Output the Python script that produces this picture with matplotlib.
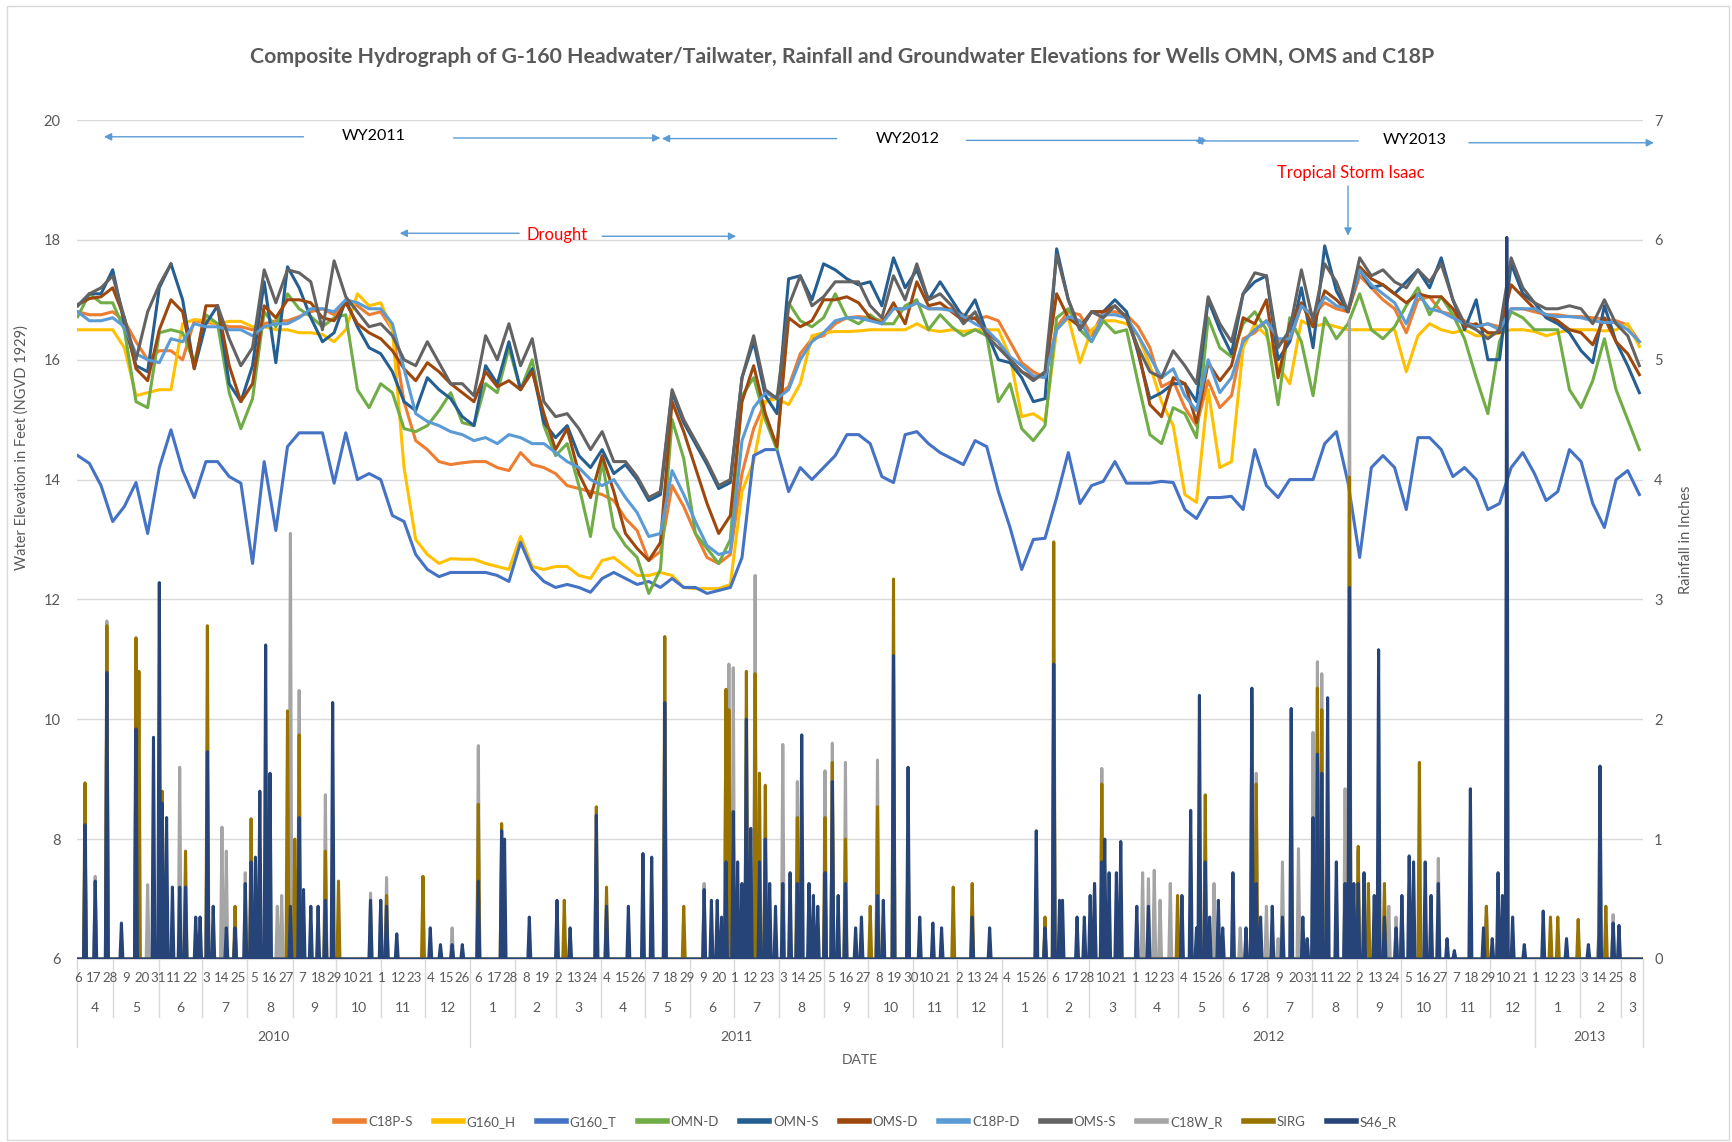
import datetime as dt
import numpy as np
import matplotlib
matplotlib.use("Agg")
import matplotlib.pyplot as plt
from matplotlib.lines import Line2D
from matplotlib.transforms import blended_transform_factory

plt.rcParams['font.family'] = ['Lato', 'DejaVu Sans']
nan = float('nan')

# ---------------- data ----------------
START = dt.date(2010, 4, 6)
N_DAYS = 1075
GRID_DAYS = list(range(0, 1073, 8))

C18P_S = [16.8, 16.75, 16.75, 16.8, 16.65, 16.3, 16.0, 16.15, 16.15, 16.0, 16.65, 16.62, 16.6, 16.55, 16.55, 16.5, 16.6, 16.65, 16.65, 16.72, 16.8, 16.85, 16.75, 16.95,
          16.9, 16.75, 16.8, 16.5, 15.3, 14.65, 14.5, 14.3, 14.25, 14.28, 14.3, 14.3, 14.2, 14.15, 14.45, 14.25, 14.2, 14.1, 13.9, 13.85, 13.8, 13.75, 13.65,
          13.35, 13.15, 12.65, 12.8, 13.9, 13.55, 13.1, 12.7, 12.6, 12.75, 14.1, 14.85, 15.3, 15.4, 15.55, 16.1, 16.35, 16.4, 16.6, 16.7, 16.72, 16.7, 16.65,
          16.85, 16.85, 16.95, 16.85, 16.85, 16.85, 16.75, 16.68, 16.72, 16.65, 16.3, 15.95, 15.8, 15.7, 16.55, 16.8, 16.75, 16.4, 16.8, 16.8, 16.75, 16.55, 16.2,
          15.55, 15.65, 15.2, 14.9, 15.65, 15.2, 15.4, 16.35, 16.45, 16.65, 16.3, 16.3, 16.9, 16.75, 16.95, 16.85, 16.8, 17.4, 17.2, 17.0, 16.85, 16.45, 17.0, 17.05,
          16.8, 16.75, 16.65, 16.55, 16.6, 16.55, 16.85, 16.85, 16.8, 16.75, 16.75, 16.72, 16.72, 16.7, 16.68, 16.65, 16.58, 16.3]

G160_H = [16.5, 16.5, 16.5, 16.5, 16.2, 15.4, 15.45, 15.5, 15.5, 16.6, 16.67, 16.65, 16.6, 16.64, 16.64, 16.55, 16.55, 16.5, 16.5, 16.45, 16.45, 16.42, 16.3, 16.5,
          17.1, 16.9, 16.95, 16.5, 14.2, 13.0, 12.75, 12.6, 12.68, 12.67, 12.67, 12.6, 12.55, 12.5, 13.05, 12.55, 12.5, 12.55, 12.55, 12.4, 12.35, 12.65, 12.7,
          12.55, 12.4, 12.4, 12.45, 12.4, 12.2, 12.18, 12.18, 12.18, 12.25, 13.8, 14.3, 15.3, 15.35, 15.25, 15.6, 16.4, 16.45, 16.47, 16.47, 16.48, 16.5, 16.5,
          16.5, 16.5, 16.6, 16.5, 16.47, 16.5, 16.47, 16.5, 16.5, 16.5, 16.05, 15.05, 15.1, 14.97, 16.5, 16.7, 15.95, 16.5, 16.65, 16.65, 16.6, 16.4, 15.9,
          15.3, 14.9, 13.75, 13.62, 15.5, 14.2, 14.3, 16.2, 16.6, 16.4, 15.9, 15.6, 16.65, 16.55, 16.6, 16.55, 16.5, 16.5, 16.5, 16.5, 16.5, 15.8, 16.4, 16.6,
          16.5, 16.45, 16.5, 16.4, 16.4, 16.45, 16.5, 16.5, 16.47, 16.4, 16.45, 16.5, 16.5, 16.5, 16.48, 16.5, 16.6, 16.22]

G160_T = [14.4, 14.27, 13.9, 13.3, 13.55, 13.95, 13.1, 14.2, 14.83, 14.15, 13.7, 14.3, 14.3, 14.05, 13.94, 12.6, 14.3, 13.15, 14.55, 14.78, 14.78, 14.78, 13.94, 14.78,
          14.0, 14.1, 14.0, 13.4, 13.3, 12.75, 12.5, 12.38, 12.45, 12.45, 12.45, 12.45, 12.4, 12.3, 12.95, 12.5, 12.3, 12.2, 12.25, 12.2, 12.12, 12.35, 12.45,
          12.35, 12.25, 12.3, 12.2, 12.35, 12.2, 12.2, 12.1, 12.15, 12.2, 12.7, 14.4, 14.5, 14.5, 13.8, 14.2, 14.0, 14.2, 14.4, 14.75, 14.75, 14.6, 14.05,
          13.95, 14.75, 14.8, 14.6, 14.45, 14.35, 14.25, 14.65, 14.55, 13.8, 13.2, 12.5, 13.0, 13.02, 13.7, 14.45, 13.6, 13.9, 13.97, 14.3, 13.94, 13.94, 13.94,
          13.97, 13.95, 13.5, 13.35, 13.7, 13.7, 13.72, 13.5, 14.5, 13.9, 13.7, 14.0, 14.0, 14.0, 14.6, 14.8, 13.95, 12.7, 14.2, 14.4, 14.2, 13.5, 14.7, 14.7,
          14.5, 14.05, 14.2, 14.0, 13.5, 13.6, 14.2, 14.45, 14.1, 13.65, 13.8, 14.5, 14.3, 13.6, 13.2, 14.0, 14.15, 13.75]

OMN_D = [16.72, 17.1, 16.95, 16.95, 16.5, 15.3, 15.2, 16.45, 16.5, 16.45, 15.95, 16.75, 16.6, 15.45, 14.85, 15.35, 16.8, 16.55, 17.1, 16.85, 16.72, 16.55, 16.7, 16.75,
         15.5, 15.2, 15.6, 15.45, 14.85, 14.8, 14.9, 15.15, 15.45, 14.95, 14.9, 15.6, 15.45, 16.2, 15.5, 16.0, 14.9, 14.4, 14.6, 13.9, 13.05, 14.3, 13.2,
         12.9, 12.7, 12.1, 12.5, 15.0, 14.35, 13.1, 12.85, 12.6, 13.0, 15.4, 15.7, 15.0, 14.5, 16.95, 16.65, 16.55, 16.7, 17.1, 16.7, 16.6, 16.75, 16.6,
         16.6, 16.9, 17.0, 16.5, 16.75, 16.55, 16.4, 16.5, 16.4, 15.3, 15.6, 14.85, 14.65, 14.9, 16.7, 16.85, 16.5, 16.3, 16.65, 16.45, 16.5, 15.6, 14.75,
         14.6, 15.2, 15.1, 14.7, 16.7, 16.2, 16.05, 16.6, 16.8, 16.5, 15.25, 16.7, 16.3, 15.4, 16.7, 16.35, 16.6, 17.1, 16.5, 16.35, 16.55, 16.9, 17.2, 16.75,
         17.05, 16.75, 16.35, 15.7, 15.1, 16.3, 16.8, 16.7, 16.5, 16.5, 16.5, 15.5, 15.2, 15.65, 16.35, 15.5, 15.0, 14.5]

OMN_S = [16.9, 17.1, 17.1, 17.5, 16.6, 15.9, 15.8, 17.2, 17.6, 17.0, 15.85, 16.6, 16.9, 15.6, 15.3, 15.9, 17.3, 15.95, 17.55, 17.2, 16.7, 16.3, 16.45, 17.0,
         16.55, 16.2, 16.1, 15.8, 15.3, 15.15, 15.7, 15.5, 15.35, 15.05, 14.9, 15.9, 15.6, 16.3, 15.5, 15.85, 14.95, 14.7, 14.9, 14.4, 14.2, 14.5, 14.1,
         14.25, 14.0, 13.65, 13.75, 15.45, 14.95, 14.6, 14.25, 13.85, 13.95, 15.7, 16.3, 15.4, 15.1, 17.35, 17.4, 17.0, 17.6, 17.5, 17.35, 17.25, 17.3, 16.9,
         17.7, 17.2, 17.5, 17.0, 17.3, 17.0, 16.7, 17.0, 16.45, 16.0, 15.95, 15.7, 15.3, 15.35, 17.85, 17.0, 16.5, 16.8, 16.8, 17.0, 16.8, 16.1, 15.35,
         15.45, 15.6, 15.6, 15.3, 17.0, 16.5, 16.1, 17.1, 17.3, 17.4, 16.0, 16.3, 17.2, 16.2, 17.9, 17.15, 16.8, 17.5, 17.2, 17.25, 17.1, 17.3, 17.5, 17.2,
         17.7, 17.0, 16.5, 17.0, 16.0, 16.0, 17.6, 17.1, 16.95, 16.7, 16.6, 16.45, 16.15, 15.95, 16.9, 16.3, 15.9, 15.45]

OMS_D = [16.92, 17.02, 17.05, 17.2, 16.7, 15.85, 15.65, 16.5, 17.0, 16.8, 15.85, 16.9, 16.9, 15.9, 15.3, 15.6, 16.9, 16.7, 17.0, 17.0, 16.95, 16.7, 16.65, 16.95,
         16.6, 16.45, 16.35, 16.15, 15.85, 15.65, 15.95, 15.8, 15.6, 15.45, 15.3, 15.8, 15.55, 15.65, 15.5, 15.8, 15.1, 14.5, 14.85, 14.1, 13.7, 14.4, 13.8,
         13.1, 12.85, 12.65, 12.95, 15.3, 14.8, 14.2, 13.6, 13.1, 13.4, 15.3, 15.9, 15.1, 14.55, 16.7, 16.55, 16.65, 17.0, 17.0, 17.05, 16.95, 16.7, 16.6,
         16.95, 16.6, 17.3, 16.9, 16.95, 16.8, 16.65, 16.7, 16.45, 16.3, 16.0, 15.8, 15.7, 15.75, 17.1, 16.7, 16.55, 16.8, 16.8, 16.9, 16.7, 16.15, 15.25,
         15.05, 15.7, 15.6, 14.95, 15.95, 15.65, 15.9, 16.7, 16.6, 17.0, 15.7, 16.6, 16.95, 16.55, 17.15, 17.0, 16.8, 17.55, 17.35, 17.25, 17.1, 16.95, 17.1, 17.05,
         17.05, 16.85, 16.55, 16.6, 16.45, 16.45, 17.25, 17.05, 16.85, 16.75, 16.65, 16.5, 16.45, 16.25, 16.7, 16.3, 16.1, 15.75]

C18P_D = [16.8, 16.65, 16.65, 16.7, 16.55, 16.1, 16.0, 15.95, 16.35, 16.3, 16.6, 16.55, 16.55, 16.5, 16.5, 16.4, 16.55, 16.6, 16.6, 16.7, 16.85, 16.85, 16.8, 17.0,
          16.95, 16.85, 16.85, 16.6, 15.85, 15.1, 14.97, 14.9, 14.8, 14.75, 14.65, 14.7, 14.6, 14.75, 14.7, 14.6, 14.6, 14.45, 14.3, 14.2, 14.0, 13.9, 14.0,
          13.7, 13.45, 13.05, 13.1, 14.15, 13.75, 13.3, 12.9, 12.75, 12.8, 14.65, 15.2, 15.45, 15.35, 15.5, 16.0, 16.3, 16.45, 16.65, 16.7, 16.7, 16.65, 16.6,
          16.85, 16.85, 16.95, 16.85, 16.85, 16.82, 16.72, 16.6, 16.5, 16.3, 16.05, 15.9, 15.73, 15.7, 16.5, 16.72, 16.65, 16.3, 16.75, 16.75, 16.7, 16.4, 16.05,
          15.7, 15.85, 15.4, 15.15, 16.0, 15.45, 15.7, 16.3, 16.5, 16.65, 16.35, 16.35, 16.9, 16.72, 17.05, 16.9, 16.85, 17.5, 17.25, 17.1, 16.95, 16.6, 17.1, 16.85,
          16.8, 16.7, 16.6, 16.55, 16.6, 16.5, 16.85, 16.85, 16.85, 16.75, 16.72, 16.72, 16.7, 16.65, 16.62, 16.62, 16.5, 16.3]

OMS_S = [16.9, 17.1, 17.2, 17.4, 16.7, 16.0, 16.8, 17.25, 17.6, nan, nan, nan, 16.9, 16.35, 15.9, 16.2, 17.5, 16.95, 17.5, 17.45, 17.3, 16.5, 17.65, 17.05,
         16.8, 16.55, 16.6, 16.4, 16.0, 15.9, 16.3, 15.95, 15.6, 15.6, 15.4, 16.4, 16.0, 16.6, 15.9, 16.35, 15.3, 15.05, 15.1, 14.85, 14.5, 14.8, 14.3,
         14.3, 14.05, 13.7, 13.8, 15.5, 15.0, 14.65, 14.3, 13.9, 14.0, 15.7, 16.4, 15.5, 15.35, 16.9, 17.4, 16.9, 17.05, 17.3, 17.3, 17.3, 16.9, 16.7,
         17.4, 17.0, 17.6, 17.0, 17.1, 16.9, 16.6, 16.8, 16.4, 16.2, 16.0, 15.8, 15.65, 15.8, 17.75, 17.0, 16.5, 16.8, 16.7, 16.9, 16.7, 16.2, 15.8,
         15.7, 16.15, 15.9, 15.6, 17.05, 16.6, 16.3, 17.1, 17.45, 17.4, 16.2, 16.5, 17.5, 16.65, 17.6, 17.3, 16.8, 17.7, 17.4, 17.5, 17.3, 17.2, 17.5, 17.3,
         17.6, 17.0, 16.6, 16.5, 16.35, 16.5, 17.7, 17.2, 16.95, 16.85, 16.85, 16.9, 16.85, 16.6, 17.0, 16.6, 16.4, 15.9]

C18W_R_DAYS = [12, 20, 40, 48, 70, 99, 102, 115, 125, 137, 140, 146, 152, 170, 201, 208, 212, 257, 275,
               430, 445, 447, 450, 465, 484, 494, 513, 518, 527, 549, 698, 703, 731, 735, 739, 743, 750,
               780, 798, 806, 809, 816, 824, 827, 838, 848, 851, 854, 870, 873, 879, 900, 905, 909, 934,
               967, 1044, 1054]
C18W_R = [0.69, 2.82, 2.3, 0.62, 1.6, 1.1, 0.9, 0.72, 0.8, 0.44, 0.53, 3.55, 2.24, 1.37, 0.55, 0.49, 0.68, 0.26, 1.78,
          0.63, 2.23, 2.46, 2.43, 3.2, 1.79, 1.48, 1.57, 1.8, 1.64, 1.66, 0.63, 1.59, 0.72, 0.67, 0.74, 0.49, 0.63,
          0.63, 0.26, 2.13, 1.55, 0.44, 0.17, 0.81, 0.92, 1.89, 2.48, 2.38, 1.42, 5.33, 0.9, 0.44, 0.35, 0.44, 0.84,
          0.44, 0.17, 0.37]

SIRG_DAYS = [5, 20, 40, 42, 58, 74, 89, 108, 119, 144, 149, 152, 170, 179, 212, 237, 275, 291, 334, 356, 363,
             403, 416, 445, 447, 459, 465, 468, 472, 494, 513, 518, 527, 544, 549, 560, 570, 601, 614,
             664, 670, 703, 755, 774, 809, 851, 854, 873, 879, 886, 897, 921, 967, 1011, 1016, 1030, 1049]
SIRG = [1.47, 2.78, 2.68, 2.4, 1.4, 0.9, 2.78, 0.44, 1.17, 2.07, 1.0, 1.87, 0.9, 0.65, 0.53, 0.69, 1.29, 1.13, 0.49, 1.27, 0.6,
        2.69, 0.44, 2.25, 2.08, 2.4, 2.38, 1.55, 1.45, 1.18, 1.18, 1.64, 1.0, 0.44, 1.27, 3.17, 1.0, 0.6, 0.63,
        0.35, 3.48, 1.46, 0.53, 1.37, 1.46, 2.26, 2.08, 4.02, 0.94, 0.63, 0.63, 1.64, 0.44, 0.35, 0.35, 0.33, 0.44]

S46_R_DAYS = [5, 12, 20, 30, 40, 52, 56, 58, 61, 65, 70, 74, 81, 84, 89, 93, 102, 108, 115, 119, 122, 125, 129, 132,
              146, 152, 155, 160, 165, 170, 175, 201, 208, 212, 219, 242, 249, 257, 264, 275, 291, 293, 310, 329,
              338, 356, 363, 378, 388, 394, 403, 430, 435, 439, 442, 445, 450, 453, 456, 459, 462, 468, 472, 475,
              479, 484, 489, 494, 497, 502, 505, 508, 513, 518, 522, 527, 534, 538, 549, 553, 560, 570, 578, 587,
              593, 614, 626, 658, 664, 670, 674, 676, 686, 691, 695, 698, 703, 705, 708, 713, 716, 727, 735, 758,
              764, 768, 770, 774, 777, 783, 786, 793, 802, 806, 809, 812, 820, 827, 833, 841, 844, 848, 851, 854,
              858, 864, 870, 873, 876, 879, 883, 890, 893, 897, 905, 909, 914, 917, 925, 929, 934, 940, 945, 956,
              965, 971, 975, 978, 981, 985, 993, 1006, 1022, 1037, 1045, 1054, 1058]
S46_R = [1.12, 0.65, 2.39, 0.3, 1.92, 1.85, 3.14, 1.3, 1.18, 0.6, 0.6, 0.6, 0.35, 0.35, 1.73, 0.44, 0.26, 0.26, 0.63, 0.81, 0.85, 1.4, 2.62, 1.55,
         0.44, 1.18, 0.58, 0.44, 0.44, 0.49, 2.14, 0.49, 0.49, 0.44, 0.21, 0.26, 0.12, 0.12, 0.12, 0.65, 1.07, 1.0, 0.35, 0.49,
         0.26, 1.2, 0.44, 0.44, 0.88, 0.85, 2.14, 0.58, 0.49, 0.49, 0.35, 0.81, 1.23, 0.81, 0.63, 2.0, 1.09, 0.81, 1.0, 0.63,
         0.44, 0.63, 0.72, 0.63, 1.87, 0.63, 0.53, 0.44, 0.72, 1.48, 0.53, 0.63, 0.26, 0.35, 0.53, 0.49, 2.53, 1.6, 0.35, 0.3,
         0.26, 0.35, 0.26, 1.07, 0.26, 2.46, 0.49, 0.49, 0.35, 0.35, 0.53, 0.63, 0.81, 1.0, 0.72, 0.72, 0.98, 0.44, 0.44, 0.53,
         1.24, 0.26, 2.2, 0.81, 0.35, 0.49, 0.26, 0.72, 0.26, 2.26, 0.63, 0.35, 0.44, 0.35, 2.09, 0.35, 0.17, 1.18, 1.71, 1.55,
         2.18, 0.81, 0.63, 3.1, 0.63, 0.63, 0.72, 0.53, 2.58, 0.35, 0.26, 0.53, 0.86, 0.81, 0.81, 0.53, 0.63, 0.17, 0.07, 1.42,
         0.26, 0.17, 0.72, 0.53, 6.02, 0.35, 0.12, 0.4, 0.17, 0.12, 1.61, 0.3, 0.28]

LEVEL_SERIES = [("C18P-S", C18P_S), ("G160_H", G160_H), ("G160_T", G160_T), ("OMN-D", OMN_D),
                ("OMN-S", OMN_S), ("OMS-D", OMS_D), ("C18P-D", C18P_D), ("OMS-S", OMS_S)]
RAIN_SERIES = [("C18W_R", C18W_R_DAYS, C18W_R), ("SIRG", SIRG_DAYS, SIRG), ("S46_R", S46_R_DAYS, S46_R)]

for name, vals in LEVEL_SERIES:
    assert len(vals) == len(GRID_DAYS), (name, len(vals))
for name, d, v in RAIN_SERIES:
    assert len(d) == len(v), (name, len(d), len(v))

COLORS = {"C18P-S": "#ED7D31", "G160_H": "#FFC000", "G160_T": "#4472C4", "OMN-D": "#70AD47",
          "OMN-S": "#255E91", "OMS-D": "#9E480E", "C18P-D": "#5B9BD5", "OMS-S": "#636363",
          "C18W_R": "#A5A5A5", "SIRG": "#997300", "S46_R": "#264478"}

TXT = "#595959"
GRID = "#D9D9D9"

# ---------------- figure ----------------
W, H = 1732, 1142
fig = plt.figure(figsize=(W / 100, H / 100), dpi=100)
L, R, T, B = 77, 1643, 120, 959
ax = fig.add_axes([L / W, 1 - B / H, (R - L) / W, (B - T) / H])
ax.set_xlim(-0.5, N_DAYS - 0.5)
ax.set_ylim(6, 20)
ax.set_yticks(range(6, 21, 2))
ax.grid(axis='y', color=GRID, lw=1)
ax.set_axisbelow(True)
for s in ["top", "right", "left"]:
    ax.spines[s].set_visible(False)
ax.spines["bottom"].set_color(GRID)
ax.set_xticks([])
ax.tick_params(axis='y', length=0, labelcolor=TXT, labelsize=10.5, pad=12)

for name, vals in LEVEL_SERIES:
    ax.plot(GRID_DAYS, vals, color=COLORS[name], lw=2.2, solid_joinstyle='round')

ax2 = ax.twinx()
ax2.set_ylim(0, 7)
ax2.set_yticks(range(0, 8))
for s in ["top", "right", "left", "bottom"]:
    ax2.spines[s].set_visible(False)
ax2.tick_params(axis='y', length=0, labelcolor=TXT, labelsize=10.5, pad=8)
days_all = np.arange(N_DAYS)
for name, d, v in RAIN_SERIES:
    arr = np.zeros(N_DAYS)
    arr[np.array(d)] = v
    ax2.plot(days_all, arr, color=COLORS[name], lw=2.2, solid_joinstyle='round')

ax.set_ylabel("Water Elevation in Feet (NGVD 1929)", color=TXT, fontsize=10.5)
ax.yaxis.set_label_coords(-0.031, 0.61)
ax2.set_ylabel("Rainfall in Inches", color=TXT, fontsize=10.5, labelpad=12)

# ---------------- multi-level category axis ----------------
tr = blended_transform_factory(ax.transData, fig.transFigure)
y_day, y_mon, y_year, y_date = 1 - 978 / H, 1 - 1008 / H, 1 - 1037 / H, 1 - 1060 / H
y_top, y_mon_end, y_year_end = 1 - B / H, 1 - 1017 / H, 1 - 1047 / H

for d in range(0, N_DAYS, 11):
    lab = (START + dt.timedelta(days=d)).day
    ax.text(d, y_day, str(lab), transform=tr, ha='center', va='center', fontsize=9.5, color=TXT)

end_date = START + dt.timedelta(days=N_DAYS)
months = []
cur = dt.date(START.year, START.month, 1)
while cur < end_date:
    nxt = dt.date(cur.year + (cur.month // 12), cur.month % 12 + 1, 1)
    d0 = max((cur - START).days, 0)
    d1 = min((nxt - START).days, N_DAYS)
    months.append((cur, d0, d1))
    cur = nxt
for m, d0, d1 in months:
    ax.text((d0 + d1 - 1) / 2, y_mon, str(m.month), transform=tr, ha='center', va='center', fontsize=10, color=TXT)
    if d0 > 0:
        yend = y_year_end if m.month == 1 else y_mon_end
        ax.add_line(Line2D([d0 - 0.5, d0 - 0.5], [y_top, yend], transform=tr, color=GRID, lw=1, clip_on=False))
for xe in (-0.5, N_DAYS - 0.5):
    ax.add_line(Line2D([xe, xe], [y_top, y_year_end], transform=tr, color=GRID, lw=1, clip_on=False))
for yr in (2010, 2011, 2012, 2013):
    d0 = max((dt.date(yr, 1, 1) - START).days, 0)
    d1 = min((dt.date(yr + 1, 1, 1) - START).days, N_DAYS)
    ax.text((d0 + d1 - 1) / 2, y_year, str(yr), transform=tr, ha='center', va='center', fontsize=10, color=TXT)
ax.text(0.5, y_date, "DATE", transform=blended_transform_factory(ax.transAxes, fig.transFigure),
        ha='center', va='center', fontsize=10, color=TXT)

# ---------------- annotations ----------------
ARW = "#5B9BD5"
def arrow(x0, y0, x1, y1):
    ax.annotate("", xy=(x1, y1), xytext=(x0, y0), annotation_clip=False,
                arrowprops=dict(arrowstyle='-|>', color=ARW, lw=1.0, mutation_scale=11, shrinkA=0, shrinkB=0))

ax.text(203, 19.74, "WY2011", ha='center', va='center', fontsize=11.5, color='black')
arrow(155, 19.72, 18, 19.72)
arrow(258, 19.70, 400, 19.70)
ax.text(570, 19.69, "WY2012", ha='center', va='center', fontsize=11.5, color='black')
arrow(521, 19.69, 401, 19.69)
arrow(610, 19.66, 775, 19.66)
ax.text(918, 19.67, "WY2013", ha='center', va='center', fontsize=11.5, color='black')
arrow(879, 19.65, 767, 19.65)
arrow(955, 19.62, 1082, 19.62)
ax.text(874, 19.11, "Tropical Storm Isaac", ha='center', va='center', fontsize=12, color='#FF0000')
arrow(872, 18.90, 872, 18.07)
ax.text(329, 18.08, "Drought", ha='center', va='center', fontsize=12, color='#FF0000')
arrow(303, 18.11, 221, 18.11)
arrow(360, 18.06, 452, 18.06)

# ---------------- title & legend ----------------
fig.text(0.486, 1 - 57 / H, "Composite Hydrograph of G-160 Headwater/Tailwater, Rainfall and Groundwater Elevations for Wells OMN, OMS and C18P",
         ha='center', va='center', fontsize=15.3, fontweight='bold', color=TXT)

handles = [Line2D([], [], color=COLORS[n], lw=4) for n, _ in LEVEL_SERIES] + \
          [Line2D([], [], color=COLORS[n], lw=4) for n, _, _ in RAIN_SERIES]
labels = [n for n, _ in LEVEL_SERIES] + [n for n, _, _ in RAIN_SERIES]
fig.legend(handles, labels, loc='center', bbox_to_anchor=(0.5, 1 - 1122 / H), ncol=11, frameon=False,
           fontsize=9.5, labelcolor=TXT, handlelength=2.2, handletextpad=0.3, columnspacing=1.6)

fig.add_artist(plt.Rectangle((7 / W, 2 / H), (W - 10) / W, (H - 8) / H, transform=fig.transFigure,
                             fill=False, edgecolor=GRID, lw=1))

fig.savefig("out.png", dpi=100)
